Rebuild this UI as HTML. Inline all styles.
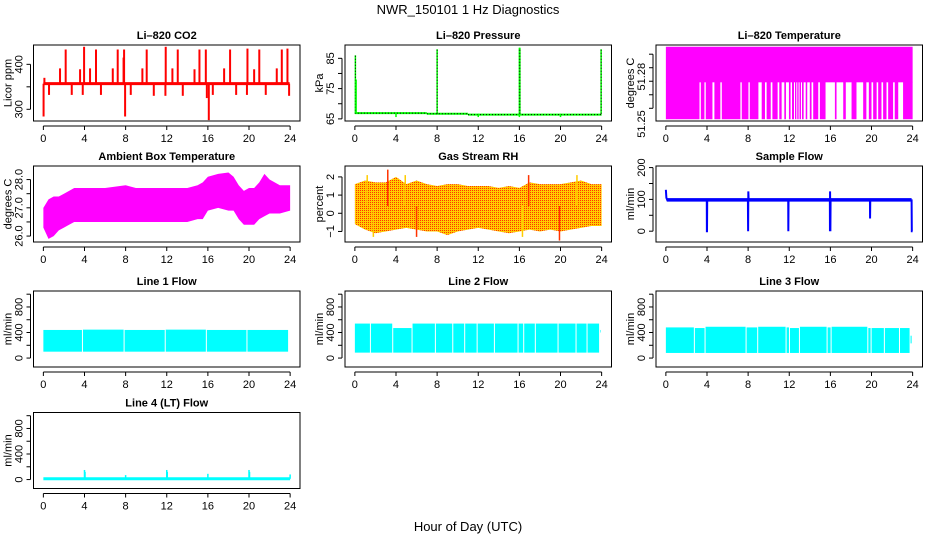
<!DOCTYPE html>
<html><head><meta charset="utf-8"><style>
body{margin:0;background:#fff}
svg{display:block;font-family:"Liberation Sans",Arial,sans-serif}
</style></head><body>
<svg id="chart" width="936" height="540" viewBox="0 0 936 540">
<defs>
<pattern id="rhpat" width="2" height="2" patternUnits="userSpaceOnUse">
<rect width="2" height="2" fill="#ffcc00"/><rect width="1" height="1" fill="#ff3300"/>
</pattern>
</defs>
<text x="468" y="14" text-anchor="middle" font-size="13">NWR_150101  1 Hz Diagnostics</text>
<text x="468" y="531" text-anchor="middle" font-size="13">Hour of Day (UTC)</text>
</svg>
<script>
// ---------- data ----------
const hourTicks = [0,4,8,12,16,20,24];
const co2Base = 357;
const co2SpikeHours = [2.17,3.96,5.12,7.23,7.85,10.05,11.9,13.07,15.18,15.8,18.16,19.85,21.0,23.19,23.74,1.62,3.57,4.54,6.75,7.8,9.63,12.55,14.7,17.58,20.5,22.7,0.02,0.55,2.76,3.83,5.6,7.95,8.5,10.74,11.87,13.56,15.9,16.09,16.48,18.75,19.8,21.63,23.9,0.1];
const co2SpikeValues = [433,439,433,433,433,433,439,433,433,433,433,435,433,433,435,391,389,391,391,415,391,391,389,391,389,391,284,332,332,332,332,284,332,330,330,330,325,276,332,332,332,332,330,370];
const pressBaseHours = [0,7,7,11,11,24];
const pressBaseValues = [66.9,66.9,66.7,66.7,66.4,66.4];
const pressSpikeHours = [0.05,0.12,8.0,16.0,16.05,23.95,4,12,16,20];
const pressSpikeValues = [86,78,88,88.5,88.5,88,65.6,65.6,65.6,65.6];
const tempLow = 51.2419, tempMid = 51.2692, tempHigh = 51.2955;
const tempGapStart = [3.27,3.75,4.53,5.3,7.25,8.03,9.0,9.64,10.2,10.87,11.26,11.68,12.13,12.46,12.69,12.91,13.14,13.4,13.75,14.17,14.82,15.53,16.6,17.5,18.54,19.5,20.0,20.5,20.97,21.46,22.1,22.6];
const tempGapEnd = [3.4,3.88,4.72,5.44,7.38,8.16,9.32,9.8,10.36,11.03,11.52,11.97,12.27,12.56,12.78,13.0,13.24,13.6,14.0,14.33,14.98,16.44,17.25,18.06,19.19,19.74,20.16,20.65,21.13,21.62,22.26,23.07];
const envHours = [0,0.5,1,1.5,2,2.5,3,4,5,6,7,8,9,10,11,12,13,14,15,15.5,16,17,18,18.5,19,19.5,20,20.5,21,21.5,22,23,24];
const ambUpper = [27.0,27.3,27.4,27.4,27.5,27.6,27.7,27.7,27.7,27.7,27.75,27.8,27.7,27.7,27.7,27.7,27.7,27.7,27.8,27.9,28.1,28.2,28.25,28.1,27.8,27.6,27.7,27.7,27.9,28.2,28.0,27.8,27.8];
const ambLower = [26.3,25.9,26.0,26.2,26.3,26.4,26.5,26.5,26.5,26.5,26.5,26.5,26.5,26.5,26.5,26.5,26.5,26.5,26.6,26.6,26.9,27.0,26.9,26.9,26.6,26.4,26.4,26.4,26.6,26.7,26.8,26.8,26.9];
const rhHours = [0,1,2,3,4,5,6,7,8,9,10,11,12,13,14,15,16,17,18,19,20,21,22,23,24];
const rhUpper = [1.6,1.8,1.7,1.7,2.0,1.6,1.8,1.6,1.5,1.6,1.6,1.5,1.5,1.5,1.4,1.5,1.4,1.7,1.6,1.6,1.6,1.7,1.8,1.6,1.6];
const rhLower = [-0.6,-0.9,-1.1,-1.0,-0.9,-0.8,-0.9,-1.0,-1.0,-1.2,-1.0,-0.9,-0.8,-0.9,-1.0,-1.1,-1.0,-0.9,-1.0,-0.9,-1.0,-0.9,-0.8,-0.7,-0.7];
const rhSpikeHours = [1.2,3.2,4.9,16.9,21.6,19.9,16.3,6.0,1.8];
const rhSpikeValues = [2.1,2.4,2.1,2.1,2.1,-1.5,-1.3,-1.3,-1.3];
const sampleHours = [0,0.05,0.15,3.98,3.99,4.0,4.02,7.98,7.99,8.0,8.02,8.05,11.9,11.91,11.93,15.95,15.96,15.97,16.0,16.02,19.85,19.86,19.88,23.9,23.92,24];
const sampleValues = [130,105,97,97,0,0,98,97,40,0,125,97,97,0,97,97,0,125,0,97,97,40,97,97,0,0];
const line1Gaps = [3.85,7.9,11.9,15.9,19.85,23.9];
const line1Tops = [440,445,440,445,440,440,420];
const line1Lows = [100,100,100,100,100,100,300];
const line2Gaps = [1.56,3.73,5.61,7.88,9.57,10.73,11.94,13.62,15.92,16.47,17.6,19.81,21.56,22.63,23.85];
const line2Tops = [540,540,470,540,540,540,540,540,540,540,540,540,540,540,540,440];
const line2Lows = [85,85,85,85,85,85,85,85,85,85,85,85,85,85,85,400];
const line3Gaps = [2.82,3.86,7.85,8.98,11.74,12.07,13.04,15.73,16.12,19.69,20.01,21.3,22.77,23.8];
const line3Tops = [480,470,490,480,490,480,470,490,480,490,470,470,470,470,350];
const line3Lows = [80,80,80,80,80,80,80,80,80,80,80,80,80,80,230];
const line4Base = 12;
const line4SpikeHours = [4,4.05,8,12,12.05,16,20,20.05,24];
const line4SpikeValues = [150,120,70,150,120,90,150,120,80];

// ---------- layout ----------
const svg = document.getElementById('chart');
const NS = 'http://www.w3.org/2000/svg';
const colLeft = [33.5,345,656], boxW = 266.5;
const rowTop = [45,166,291,412.5], boxH = 76;
const XMIN = -0.96, XMAX = 24.96;
function el(tag, attrs, parent){const e=document.createElementNS(NS,tag);for(const k in attrs)e.setAttribute(k,attrs[k]);(parent||svg).appendChild(e);return e;}

function panel(name, title, col, row, ymin, ymax, yticks, ylabels, ytitle){
  const L=colLeft[col], T=rowTop[row];
  const g = el('g',{});
  
  
  const sx = h => L + (h - XMIN)/(XMAX - XMIN)*boxW;
  const sy = v => T + boxH - (v - ymin)/(ymax - ymin)*boxH;
  const plot = el('g',{}, g);
  
  
  const clip = 'clip-'+name;
  const cp = el('clipPath',{id:clip}, g); el('rect',{x:L,y:T,width:boxW,height:boxH},cp);
  plot.setAttribute('clip-path','url(#'+clip+')');
  const box = el('rect',{x:L,y:T,width:boxW,height:boxH,fill:'none',stroke:'#000','stroke-width':1}, g);
  
  
  const t = el('text',{x:L+boxW/2,y:T-6,'text-anchor':'middle','font-size':11,'font-weight':'bold'}, g);
  t.textContent = title;
  
  
  const xa = el('g',{stroke:'#000','stroke-width':1}, g);
  
  
  const ay = T+boxH+5;
  el('line',{x1:sx(hourTicks[0]),x2:sx(hourTicks[hourTicks.length-1]),y1:ay,y2:ay},xa);
  hourTicks.forEach(h=>{
    el('line',{x1:sx(h),x2:sx(h),y1:ay,y2:ay+4},xa);
    const tl = el('text',{x:sx(h),y:ay+16,'text-anchor':'middle','font-size':11,stroke:'none'},xa);
    tl.textContent = h;
    
    
  });
  const ya = el('g',{stroke:'#000','stroke-width':1}, g);
  
  
  const ax = L-3;
  el('line',{x1:ax,x2:ax,y1:sy(yticks[0]),y2:sy(yticks[yticks.length-1])},ya);
  yticks.forEach((v,i)=>{
    el('line',{x1:ax,x2:ax-4,y1:sy(v),y2:sy(v)},ya);
    if(ylabels[i]!==''){
      const yy = sy(v);
      const tl = el('text',{x:0,y:0,transform:`translate(${L-11},${yy}) rotate(-90)`,'text-anchor':'middle','font-size':11,stroke:'none'},ya);
      tl.textContent = ylabels[i];
      
      
    }
  });
  const yt = el('text',{x:0,y:0,transform:`translate(${L-22},${T+boxH/2}) rotate(-90)`,'text-anchor':'middle','font-size':11},g);
  yt.textContent = ytitle;
  
  
  return {sx, sy, plot};
}

// CO2
(function(){
  const p = panel('co2','Li\u2013820 CO2',0,0,274,443,[300,350,400],['300','','400'],'Licor ppm');
  const b = el('line',{x1:p.sx(0),x2:p.sx(23.95),y1:p.sy(co2Base),y2:p.sy(co2Base),stroke:'#ff0000','stroke-width':3},p.plot);
  
  co2SpikeHours.forEach((h,i)=>{
    const s = el('line',{x1:p.sx(h),x2:p.sx(h),y1:p.sy(co2Base),y2:p.sy(co2SpikeValues[i]),stroke:'#ff0000','stroke-width':2},p.plot);
    
  });
})();

// Pressure
(function(){
  const p = panel('pressure','Li\u2013820 Pressure',1,0,64.3,89.4,[65,70,75,80,85],['65','','75','','85'],'kPa');
  for(let i=0;i<pressBaseHours.length;i+=2){
    const a=el('line',{x1:p.sx(pressBaseHours[i]),x2:p.sx(pressBaseHours[i+1]),y1:p.sy(pressBaseValues[i]),y2:p.sy(pressBaseValues[i+1]),stroke:'#00ff00','stroke-width':2},p.plot);
    
    const d=el('line',{x1:p.sx(pressBaseHours[i]),x2:p.sx(pressBaseHours[i+1]),y1:p.sy(pressBaseValues[i]),y2:p.sy(pressBaseValues[i+1]),stroke:'#000','stroke-width':1,'stroke-dasharray':'1 2'},p.plot);
    
  }
  pressSpikeHours.forEach((h,i)=>{
    const s=el('line',{x1:p.sx(h),x2:p.sx(h),y1:p.sy(66.7),y2:p.sy(pressSpikeValues[i]),stroke:'#00ff00','stroke-width':1.5},p.plot);
    
    if(pressSpikeValues[i]>80){
      const d=el('line',{x1:p.sx(h),x2:p.sx(h),y1:p.sy(66.7),y2:p.sy(pressSpikeValues[i]),stroke:'#000','stroke-width':1,'stroke-dasharray':'1 2'},p.plot);
      
    }
  });
})();

// Temperature
(function(){
  const p = panel('temperature','Li\u2013820 Temperature',2,0,51.2406,51.2968,[51.25,51.26,51.27,51.28,51.29],['','','','',''],'degrees C');
  const ax = p.plot.parentNode;
  [['51.25',124],['51.28',76.7]].forEach(a=>{
    const t=el('text',{x:0,y:0,transform:`translate(${colLeft[2]-11},${a[1]}) rotate(-90)`,'text-anchor':'middle','font-size':11},ax);
    t.textContent=a[0];
    
    
  });
  const top=el('rect',{x:p.sx(0),y:p.sy(tempHigh),width:p.sx(24)-p.sx(0),height:p.sy(tempMid)-p.sy(tempHigh),fill:'#ff00ff'},p.plot);
  
  let start=0;
  const ends = tempGapStart.concat([24]);
  ends.forEach((e,i)=>{
    const r=el('rect',{x:p.sx(start),y:p.sy(tempMid)-0.5,width:Math.max(0,p.sx(e)-p.sx(start)),height:p.sy(tempLow)-p.sy(tempMid)+0.5,fill:'#ff00ff'},p.plot);
    
    start = i<tempGapEnd.length ? tempGapEnd[i] : 24;
  });
})();

function envelope(p, hours, upper, lower, fill, name){
  let d='M';
  hours.forEach((h,i)=>{d+=p.sx(h)+','+p.sy(upper[i])+' L';});
  for(let i=hours.length-1;i>=0;i--){d+=p.sx(hours[i])+','+p.sy(lower[i])+(i>0?' L':'');}
  d+=' Z';
  const e=el('path',{d:d,fill:fill},p.plot);
  
  return e;
}

// Ambient
(function(){
  const p = panel('ambient','Ambient Box Temperature',0,1,25.79,28.48,[26,26.5,27,27.5,28],['26.0','','27.0','','28.0'],'degrees C');
  envelope(p, envHours, ambUpper, ambLower, '#ff00ff', 'ambient-envelope');
})();

// RH
(function(){
  const p = panel('rh','Gas Stream RH',1,1,-1.58,2.6,[-1,0,1,2],['\u22121','0','1','2'],'percent');
  envelope(p, rhHours, rhUpper, rhLower, 'url(#rhpat)', 'rh-envelope');
  rhSpikeHours.forEach((h,i)=>{
    const s=el('line',{x1:p.sx(h),x2:p.sx(h),y1:p.sy(0.4),y2:p.sy(rhSpikeValues[i]),stroke:i%2?'#ff3300':'#ffcc00','stroke-width':1.5},p.plot);
    
  });
})();

// Sample flow
(function(){
  const p = panel('sample-flow','Sample Flow',2,1,-34,205,[0,50,100,150,200],['0','','100','','200'],'ml/min');
  const pts = sampleHours.map((h,i)=>p.sx(h)+','+p.sy(sampleValues[i])).join(' ');
  const l=el('polyline',{points:pts,fill:'none',stroke:'#0000ff','stroke-width':2},p.plot);
  
  const n=el('rect',{x:p.sx(0.1),y:p.sy(104),width:p.sx(23.9)-p.sx(0.1),height:p.sy(93)-p.sy(104),fill:'#0000ff'},p.plot);
  
})();

function flowBlocks(p, gaps, tops, lows, name){
  let start=0;
  gaps.concat([24]).forEach((g,i)=>{
    const r=el('rect',{x:p.sx(start),y:p.sy(tops[i]),width:Math.max(0,p.sx(g)-p.sx(start)-1),height:p.sy(lows[i])-p.sy(tops[i]),fill:'#00ffff'},p.plot);
    
    start=g;
  });
}
const flowTicks=[0,200,400,600,800,1000], flowLabels=['0','','400','','800',''];
(function(){
  const p = panel('line1-flow','Line 1 Flow',0,2,-140,1050,flowTicks,flowLabels,'ml/min');
  flowBlocks(p,line1Gaps,line1Tops,line1Lows,'line1');
})();
(function(){
  const p = panel('line2-flow','Line 2 Flow',1,2,-140,1050,flowTicks,flowLabels,'ml/min');
  flowBlocks(p,line2Gaps,line2Tops,line2Lows,'line2');
})();
(function(){
  const p = panel('line3-flow','Line 3 Flow',2,2,-140,1050,flowTicks,flowLabels,'ml/min');
  flowBlocks(p,line3Gaps,line3Tops,line3Lows,'line3');
})();
(function(){
  const p = panel('line4-flow','Line 4 (LT) Flow',0,3,-140,1050,flowTicks,flowLabels,'ml/min');
  const b=el('line',{x1:p.sx(0),x2:p.sx(24),y1:p.sy(line4Base),y2:p.sy(line4Base),stroke:'#00ffff','stroke-width':3},p.plot);
  
  line4SpikeHours.forEach((h,i)=>{
    const s=el('line',{x1:p.sx(h),x2:p.sx(h),y1:p.sy(line4Base),y2:p.sy(line4SpikeValues[i]),stroke:'#00ffff','stroke-width':1.5},p.plot);
    
  });
})();
</script>
</body></html>
